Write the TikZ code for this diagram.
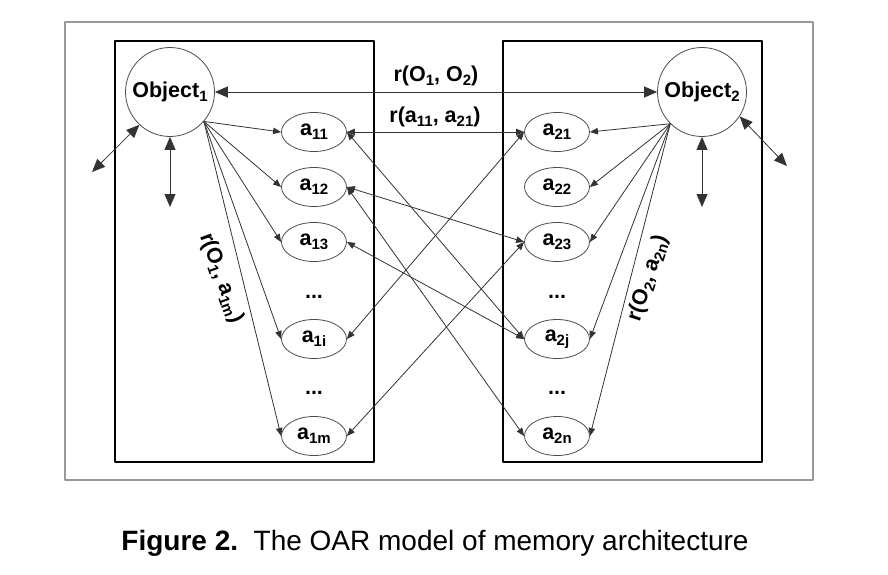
\documentclass[tikz,border=0pt]{standalone}
\usepackage{fontspec}
\setmainfont{Liberation Sans}
\usetikzlibrary{arrows.meta, shapes.geometric, positioning, calc}
\newcommand{\idx}[1]{\raisebox{-4pt}{\fontsize{15}{15}\selectfont #1}}

\begin{document}
\begin{tikzpicture}[line cap=round,line join=round,x=1pt,y=-1pt,
  >={Triangle[length=8pt,width=6.5pt]},
  big/.style={{Triangle[length=13pt,width=11pt]}-{Triangle[length=13pt,width=11pt]}},
  obj/.style={circle,draw=black!70,line width=0.8pt,minimum size=89pt,inner sep=0pt},
  attr/.style={ellipse,draw=black!70,line width=0.8pt,minimum width=65pt,minimum height=39pt,inner sep=0pt},
  rel/.style={draw=black!80,line width=0.8pt}]
\tikzstyle{every node}=[font=\fontsize{21.5}{24}\selectfont\bfseries]
\useasboundingbox (0,0) rectangle (888,574);
% frame and the two memories
\draw[black!40,line width=1.3pt] (65,22) rectangle (813,480);
\draw[line width=1.8pt] (115,41) rectangle (374,462);
\draw[line width=1.8pt] (503,41) rectangle (762,462);
% objects and attributes
\node[obj] (o1) at (170,92) {Object\idx{1}};
\node[obj] (o2) at (702,92) {Object\idx{2}};
\foreach \n/\y in {11/132,12/187,13/242,1i/339,1m/436}
\node[attr] (a\n) at (314,\y) {a\idx{\n}};
\foreach \n/\y in {21/132,22/187,23/242,2j/339,2n/436}
\node[attr] (a\n) at (557,\y) {a\idx{\n}};
\foreach \y [count=\i] in {297,393} {
\node (dl\i) at (314,\y) {...};
\node (dr\i) at (557,\y) {...};
}
% object-attribute links
\foreach \n in {11,12,13,1i,1m}
\draw[->,rel] (o1.-41) -- (a\n.west);
\foreach \n in {21,22,23,2j,2n}
\draw[->,rel] (o2.-135) -- (a\n.east);
% attribute-attribute links
\foreach \a/\b in {11/21,11/2j,12/23,12/2n,13/2j,1i/21,1m/23}
\draw[<->,rel] (a\a.east) -- (a\b.west);
\draw[big,rel] (o1) -- (o2);
% free ends
\coordinate (o1sw) at (92,172);
\coordinate (o1s) at (170,207);
\coordinate (o2se) at (787,166);
\coordinate (o2s) at (702,207);
\draw[big,rel] (o1sw) -- (o1.-133);
\draw[big,rel] (o1.south) -- (o1s);
\draw[big,rel] (o2.-33) -- (o2se);
\draw[big,rel] (o2.south) -- (o2s);
% labels
\node (r12) at (436,76) {r(O\idx{1}, O\idx{2})};
\node (raa) at (435,117) {r(a\idx{11}, a\idx{21})};
\node[rotate=-70] (r1m) at (221,278) {r(O\idx{1}, a\idx{1m})};
\node[rotate=72] (r2n) at (648,278) {r(O\idx{2}, a\idx{2n})};
\node[font=\fontsize{28}{32}\selectfont] (cap) at (435,543) {{\bfseries Figure 2.}\ \ The OAR model of memory architecture};
\end{tikzpicture}
\end{document}
